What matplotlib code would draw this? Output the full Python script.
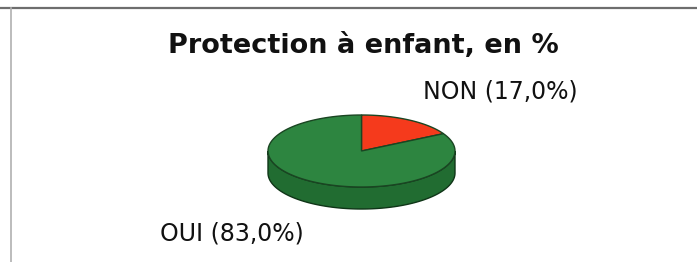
import numpy as np
import matplotlib.pyplot as plt
from matplotlib.patches import Polygon

# Data
labels = ["NON", "OUI"]
values = [17.0, 83.0]
colors_top = ["#f53a1c", "#2d8540"]
colors_side = ["#c02810", "#216c31"]
title = "Protection à enfant, en %"

plt.rcParams['font.family'] = ['DejaVu Sans']

fig = plt.figure(figsize=(6.97, 2.62), dpi=100)
ax = fig.add_axes([0, 0, 1, 1])
ax.set_xlim(0, 697)
ax.set_ylim(262, 0)
ax.axis("off")

# frame lines of the scanned chart
ax.plot([0, 697], [7.5, 7.5], color="#6e6e6e", lw=1.6)
ax.plot([11, 11], [7.5, 262], color="#b0b0b0", lw=1.2)

# 3D pie geometry (in pixel units)
cx, cy, a, b, depth = 361.5, 151, 93.5, 36, 22


def ellipse_pts(t0, t1, dy=0, n=120):
    t = np.radians(np.linspace(t0, t1, n))
    return np.column_stack([cx + a * np.cos(t), cy + dy - b * np.sin(t)])


# wedge angles: start at 12 o'clock, clockwise
fracs = np.array(values) / sum(values)
starts = 90 - 360 * np.concatenate([[0], np.cumsum(fracs)[:-1]])
ends = starts - 360 * fracs

# side wall (front half only: 180..360 deg)
for s, e, cs in zip(starts, ends, colors_side):
    lo, hi = min(s, e), max(s, e)
    for k in range(-1, 2):
        lo2, hi2 = max(lo + 360 * k, 180), min(hi + 360 * k, 360)
        if hi2 > lo2:
            top = ellipse_pts(lo2, hi2)
            bot = ellipse_pts(hi2, lo2, dy=depth)
            ax.add_patch(Polygon(np.vstack([top, bot]), closed=True,
                                 fc=cs, ec="#0f3517", lw=1.0, zorder=2))

# top face
for s, e, ct in zip(starts, ends, colors_top):
    pts = np.vstack([[cx, cy], ellipse_pts(s, e)])
    ax.add_patch(Polygon(pts, closed=True, fc=ct, ec="#1a4522",
                         lw=1.0, zorder=3))

ax.text(363, 46, title, ha="center", va="center", fontsize=19.5,
        fontweight="bold", color="#111111")
ax.text(423, 92, f"{labels[0]} ({values[0]:.1f}%)".replace(".", ","),
        ha="left", va="center", fontsize=17, color="#111111")
ax.text(160, 234, f"{labels[1]} ({values[1]:.1f}%)".replace(".", ","),
        ha="left", va="center", fontsize=17, color="#111111")

fig.savefig("out.png", dpi=100)
